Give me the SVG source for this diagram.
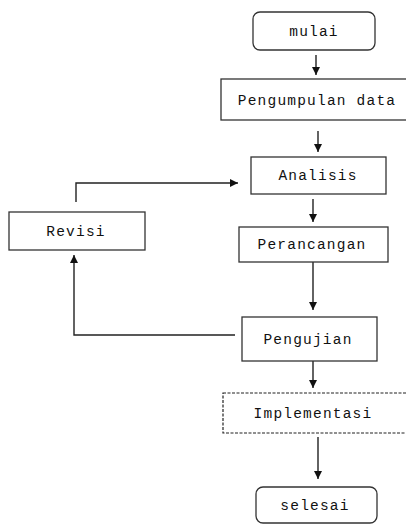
<svg xmlns="http://www.w3.org/2000/svg" width="406" height="526" viewBox="0 0 406 526">
<style>
.box{fill:#fff;stroke:#333;stroke-width:1.3}
.dash{fill:#fff;stroke:#222;stroke-width:1.2;stroke-dasharray:3 1.5}
.lbl{font-family:"Liberation Mono","DejaVu Sans Mono",monospace;font-size:14.5px;letter-spacing:1.2px;fill:#111;text-anchor:middle}
.ln{fill:none;stroke:#222;stroke-width:1.4}
</style>
<defs>
<marker id="ah" viewBox="0 0 10 10" refX="10" refY="5" markerWidth="8" markerHeight="8" markerUnits="userSpaceOnUse" orient="auto">
<path d="M0,0 L10,5 L0,10 Z" fill="#111"/>
</marker>
</defs>
<rect width="406" height="526" fill="#fff"/>
<g id="connectors">
<line class="ln" x1="316" y1="55" x2="316" y2="75" marker-end="url(#ah)"/>
<line class="ln" x1="318" y1="131" x2="318" y2="152" marker-end="url(#ah)"/>
<line class="ln" x1="313" y1="199" x2="313" y2="222" marker-end="url(#ah)"/>
<line class="ln" x1="313" y1="262" x2="313" y2="310" marker-end="url(#ah)"/>
<line class="ln" x1="313" y1="361" x2="313" y2="388" marker-end="url(#ah)"/>
<line class="ln" x1="318" y1="437" x2="318" y2="479" marker-end="url(#ah)"/>
<polyline class="ln" points="235,335 74,335 74,255" marker-end="url(#ah)"/>
<polyline class="ln" points="76,202 76,183 238,183" marker-end="url(#ah)"/>
</g>
<g id="mulai"><rect class="box" x="253" y="12" width="122" height="38" rx="7"/><text class="lbl" x="314" y="36">mulai</text></g>
<g id="pengumpulan"><rect class="box" x="221" y="79" width="190" height="41"/><text class="lbl" x="317" y="105">Pengumpulan data</text></g>
<g id="analisis"><rect class="box" x="251" y="157" width="135" height="37"/><text class="lbl" x="318" y="180">Analisis</text></g>
<g id="perancangan"><rect class="box" x="239" y="227" width="149" height="35"/><text class="lbl" x="312" y="249">Perancangan</text></g>
<g id="revisi"><rect class="box" x="9" y="212" width="136" height="38"/><text class="lbl" x="76" y="236">Revisi</text></g>
<g id="pengujian"><rect class="box" x="242" y="317" width="135" height="44"/><text class="lbl" x="308" y="344">Pengujian</text></g>
<g id="implementasi"><rect class="dash" x="223" y="393" width="190" height="40"/><text class="lbl" x="313" y="418">Implementasi</text></g>
<g id="selesai"><rect class="box" x="256" y="487" width="121" height="36" rx="7"/><text class="lbl" x="315" y="510">selesai</text></g>
</svg>
